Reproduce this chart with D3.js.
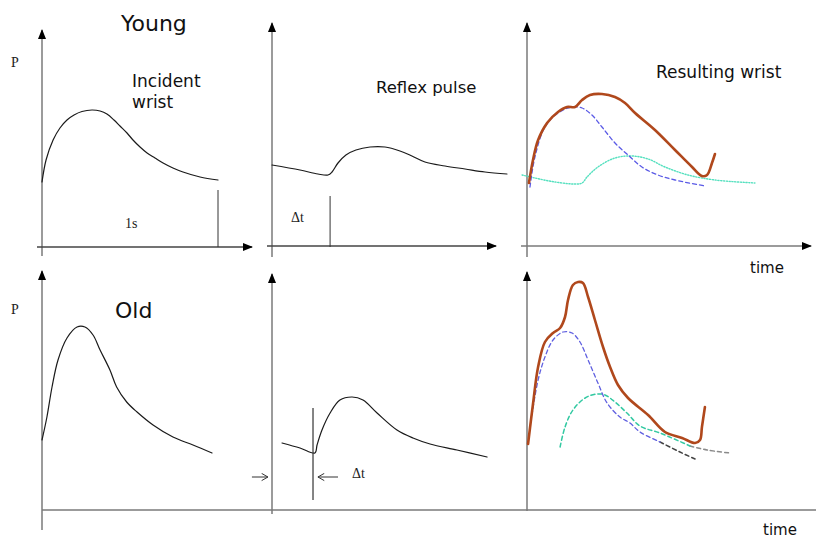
<!DOCTYPE html>
<html>
<head>
<meta charset="utf-8">
<script src="https://cdn.jsdelivr.net/npm/d3@7"></script>
<style>
  html, body { margin: 0; padding: 0; background: #fff; }
  svg { display: block; }
  .sans { font-family: "DejaVu Sans", Verdana, sans-serif; fill: #111; }
  .serif { font-family: "Liberation Serif", "Times New Roman", serif; fill: #222; }
</style>
</head>
<body>
<div id="chart"></div>
<script>
// time in seconds from the panel's P axis, P in arbitrary units above the time axis

// Young: incident wave
var youngIncidentT = [0, .023, .063, .102, .142, .182, .227, .284, .330, .369, .409, .443, .483, .517, .557, .597, .642, .688, .744, .801, .898, 1.0];
var youngIncidentP = [.64, .86, 1.06, 1.18, 1.26, 1.31, 1.345, 1.36, 1.35, 1.32, 1.26, 1.20, 1.13, 1.06, .99, .93, .88, .83, .78, .74, .69, .66];

// Young: reflected wave
var youngReflexT = [0, .159, .261, .318, .341, .375, .420, .477, .557, .642, .727, .795, .869, .983, 1.097, 1.210, 1.335];
var youngReflexP = [.81, .76, .72, .71, .74, .83, .91, .96, .99, .99, .95, .90, .84, .80, .77, .74, .72];

// Young: resulting wave and its two components
var youngSumT = [.011, .034, .063, .114, .176, .227, .273, .313, .358, .426, .500, .557, .614, .727, .841, .938, .994, 1.023, 1.051, 1.068];
var youngSumP = [.63, .86, 1.06, 1.23, 1.34, 1.39, 1.39, 1.46, 1.51, 1.52, 1.49, 1.43, 1.33, 1.16, .96, .79, .70, .71, .83, .92];
var youngIncCompT = [.017, .045, .102, .176, .256, .313, .369, .426, .500, .574, .653, .744, .841, 1.011];
var youngIncCompP = [.59, .89, 1.19, 1.33, 1.39, 1.38, 1.31, 1.19, 1.03, .91, .79, .71, .66, .60];
var youngRefCompT = [-.028, .045, .159, .273, .313, .341, .403, .500, .597, .688, .784, .915, 1.068, 1.295];
var youngRefCompP = [.71, .68, .64, .62, .63, .69, .79, .88, .90, .87, .79, .71, .66, .63];

// Old: incident wave
var oldIncidentT = [0, .028, .057, .091, .142, .199, .244, .290, .330, .386, .424, .481, .540, .631, .744, .858, .966];
var oldIncidentP = [.70, .93, 1.23, 1.50, 1.72, 1.83, 1.83, 1.75, 1.60, 1.40, 1.23, 1.08, .98, .85, .73, .65, .57];

// Old: reflected wave
var oldReflexT = [.057, .159, .244, .256, .284, .330, .386, .455, .517, .597, .710, .801, .898, 1.051, 1.222];
var oldReflexP = [.67, .62, .57, .65, .80, .97, 1.10, 1.13, 1.10, .97, .80, .72, .66, .60, .53];

// Old: resulting wave and its two components
var oldSumT = [.006, .034, .063, .102, .148, .188, .216, .233, .261, .290, .318, .347, .386, .432, .472, .517, .574, .688, .784, .881, .955, .983, .994, 1.011];
var oldSumP = [.66, 1.06, 1.43, 1.68, 1.77, 1.82, 1.93, 2.10, 2.25, 2.28, 2.27, 2.13, 1.90, 1.63, 1.43, 1.25, 1.12, .95, .78, .72, .67, .70, .83, 1.03];
var oldIncCompT = [.028, .063, .102, .148, .205, .256, .301, .347, .403, .455, .528, .585, .642, .756];
var oldIncCompP = [.95, 1.30, 1.53, 1.70, 1.78, 1.77, 1.68, 1.50, 1.27, 1.07, .93, .87, .78, .68];
var oldIncTailT = [.756, .869, .955];
var oldIncTailP = [.68, .58, .51];
var oldRefCompT = [.188, .216, .261, .330, .398, .443, .500, .568, .642, .756, .926];
var oldRefCompP = [.63, .83, 1.00, 1.12, 1.16, 1.15, 1.08, .97, .84, .77, .64];
var oldRefTailT = [.926, 1.023, 1.153];
var oldRefTailP = [.64, .60, .57];

// markers
var youngPeriodT = 1.0;     // "1s"
var youngDelayT = .330;     // reflex arrival
var oldDelayT = .233;

var W = 816, H = 538;
var colX = [42, 272, 527];
var rowY = [246, 510];

var svg = d3.select('#chart').append('svg')
    .attr('width', W)
    .attr('height', H);

var defs = svg.append('defs');
defs.append('marker')
    .attr('id', 'tip')
    .attr('viewBox', '0 0 10 10')
    .attr('refX', 9).attr('refY', 5)
    .attr('markerWidth', 10).attr('markerHeight', 10)
    .attr('markerUnits', 'userSpaceOnUse')
    .attr('orient', 'auto')
    .append('path')
    .attr('d', 'M0,1 L10,5 L0,9 Z')
    .attr('fill', '#000');
defs.append('marker')
    .attr('id', 'open')
    .attr('viewBox', '0 0 10 10')
    .attr('refX', 9).attr('refY', 5)
    .attr('markerWidth', 9).attr('markerHeight', 9)
    .attr('markerUnits', 'userSpaceOnUse')
    .attr('orient', 'auto')
    .append('path')
    .attr('d', 'M2,1 L9,5 L2,9')
    .attr('fill', 'none')
    .attr('stroke', '#333')
    .attr('stroke-width', 1.1);

function scales(col, row) {
    var x = d3.scaleLinear().domain([0, 1]).range([colX[col], colX[col] + 176]);
    var y = d3.scaleLinear().domain([0, 1]).range([rowY[row], rowY[row] - 100]);
    return { x: x, y: y };
}

function curve(s, ts, ps, color, width, dash) {
    var line = d3.line()
        .x(function (d) { return s.x(d[0]); })
        .y(function (d) { return s.y(d[1]); })
        .curve(d3.curveCatmullRom.alpha(0.5));
    svg.append('path')
        .datum(d3.zip(ts, ps))
        .attr('d', line)
        .attr('fill', 'none')
        .attr('stroke', color)
        .attr('stroke-width', width)
        .attr('stroke-linejoin', 'round')
        .attr('stroke-linecap', 'round')
        .attr('stroke-dasharray', dash || null);
}

function seg(x1, y1, x2, y2, color, width, marker) {
    svg.append('line')
        .attr('x1', x1).attr('y1', y1).attr('x2', x2).attr('y2', y2)
        .attr('stroke', color)
        .attr('stroke-width', width)
        .attr('marker-end', marker ? 'url(#' + marker + ')' : null);
}

var axisColor = '#7a7a7a';

// top row axes
seg(colX[0], 256, colX[0], 30, axisColor, 1.5, 'tip');
seg(37, 247, 252, 247, '#444', 1.3, 'tip');
seg(colX[1], 257, colX[1], 23, axisColor, 1.5, 'tip');
seg(267, 246, 496, 246, '#444', 1.3, 'tip');
seg(colX[2], 257, colX[2], 23, axisColor, 1.5, 'tip');
seg(521, 246, 811, 246, axisColor, 1.5, 'tip');

// bottom row axes
seg(colX[0], 530, colX[0], 271, axisColor, 1.5, 'tip');
seg(colX[1], 514, colX[1], 274, axisColor, 1.5, 'tip');
seg(colX[2], 511, colX[2], 272, axisColor, 1.5, 'tip');
seg(colX[0], 510, W, 510, axisColor, 1.5);

// young panels
var s = scales(0, 0);
curve(s, youngIncidentT, youngIncidentP, '#1a1a1a', 1.2);
seg(s.x(youngPeriodT), 190, s.x(youngPeriodT), 247, '#333', 1);

s = scales(1, 0);
curve(s, youngReflexT, youngReflexP, '#1a1a1a', 1.2);
seg(s.x(youngDelayT), 196, s.x(youngDelayT), 247, '#333', 1);

s = scales(2, 0);
curve(s, youngRefCompT, youngRefCompP, '#55e0bf', 1.4, '1.2,1.6');
curve(s, youngIncCompT, youngIncCompP, '#5a5ae6', 1.3, '4,3');
curve(s, youngSumT, youngSumP, '#b0481c', 2.6);

// old panels
s = scales(0, 1);
curve(s, oldIncidentT, oldIncidentP, '#1a1a1a', 1.2);

s = scales(1, 1);
curve(s, oldReflexT, oldReflexP, '#1a1a1a', 1.2);
seg(s.x(oldDelayT), 408, s.x(oldDelayT), 500, '#333', 1.2);
seg(s.x(-0.114), 477, s.x(-0.023), 477, '#333', 1, 'open');
seg(s.x(0.375), 477, s.x(0.261), 477, '#333', 1, 'open');

s = scales(2, 1);
curve(s, oldRefTailT, oldRefTailP, '#8a8a8a', 1.5, '4,3');
curve(s, oldIncTailT, oldIncTailP, '#444', 1.5, '4,3');
curve(s, oldRefCompT, oldRefCompP, '#33c9a2', 1.5, '4,3');
curve(s, oldIncCompT, oldIncCompP, '#6060e0', 1.3, '4,3');
curve(s, oldSumT, oldSumP, '#b0481c', 2.6);

// labels
function label(x, y, txt, cls, size) {
    svg.append('text')
        .attr('class', cls)
        .attr('x', x).attr('y', y)
        .style('font-size', size + 'px')
        .text(txt);
}
label(121, 31, 'Young', 'sans', 22);
label(115, 318, 'Old', 'sans', 22);
label(132, 87, 'Incident', 'sans', 17);
label(132, 108, 'wrist', 'sans', 17);
label(376, 93, 'Reflex pulse', 'sans', 16.5);
label(656, 78, 'Resulting wrist', 'sans', 17);
label(750, 273, 'time', 'sans', 15);
label(763, 535, 'time', 'sans', 15);
label(11, 67, 'P', 'serif', 14);
label(11, 314, 'P', 'serif', 14);
label(125, 228, '1s', 'serif', 14);
label(291, 222, '\u0394t', 'serif', 14);
label(352, 478, '\u0394t', 'serif', 14);
</script>
</body>
</html>
